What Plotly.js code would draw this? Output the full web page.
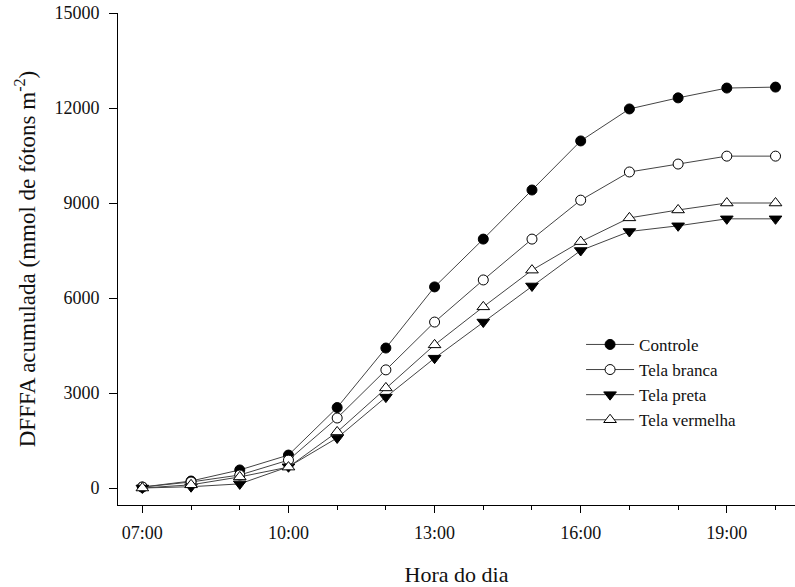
<!DOCTYPE html>
<html>
<head>
<meta charset="utf-8">
<script src="https://cdn.plot.ly/plotly-3.0.1.min.js"></script>
<style>html,body{margin:0;padding:0;background:#fff;}#chart{width:795px;height:587px;}</style>
</head>
<body>
<div id="chart"></div>
<script>
const hours = [7, 8, 9, 10, 11, 12, 13, 14, 15, 16, 17, 18, 19, 20];
const xTickVals = [7, 10, 13, 16, 19];
const xTickText = ["07:00", "10:00", "13:00", "16:00", "19:00"];
const yTickVals = [0, 3000, 6000, 9000, 12000, 15000];
const yTickText = ["0", "3000", "6000", "9000", "12000", "15000"];
const controle = [30, 220, 570, 1040, 2540, 4420, 6350, 7860, 9410, 10960, 11970, 12320, 12630, 12660];
const telaBranca = [30, 190, 410, 880, 2210, 3730, 5240, 6570, 7860, 9090, 9980, 10230, 10480, 10480];
const telaPreta = [0, 40, 130, 670, 1580, 2870, 4100, 5240, 6380, 7500, 8100, 8280, 8500, 8500];
const telaVermelha = [0, 100, 350, 660, 1770, 3160, 4520, 5720, 6880, 7780, 8530, 8780, 9000, 9000];

const font = "Liberation Serif, Times New Roman, serif";
const lineCol = "#444";
function tr(name, y, symbol, fill) {
  return {
    x: hours, y: y, name: name, type: "scatter", mode: "lines+markers",
    line: {color: lineCol, width: 1},
    marker: {symbol: symbol, size: symbol.indexOf("triangle") === 0 ? 11 : 10, color: fill, line: {color: "#000", width: 1}}
  };
}
const data = [
  tr("Controle", controle, "circle", "#000"),
  tr("Tela branca", telaBranca, "circle", "#fff"),
  tr("Tela preta", telaPreta, "triangle-down", "#000"),
  tr("Tela vermelha", telaVermelha, "triangle-up", "#fff")
];
const layout = {
  width: 795, height: 587,
  margin: {l: 118, r: 0, t: 13, b: 82},
  paper_bgcolor: "#fff", plot_bgcolor: "#fff",
  font: {family: font, size: 18, color: "#111"},
  showlegend: true,
  legend: {x: 0.684, y: 0.362, xanchor: "left", yanchor: "top", font: {family: font, size: 17, color: "#111"}, bgcolor: "rgba(0,0,0,0)", tracegroupgap: 0, itemwidth: 48},
  xaxis: {
    range: [6.5, 20.4], tickmode: "array", tickvals: xTickVals, ticktext: xTickText,
    showgrid: false, zeroline: false, showline: true, linecolor: "#000", linewidth: 1,
    ticks: "outside", ticklen: 7, tickcolor: "#000", ticklabelstandoff: 4,
    minor: {tickmode: "linear", tick0: 7, dtick: 1, ticks: "outside", ticklen: 4, tickcolor: "#000", showgrid: false},
    tickfont: {family: font, size: 18, color: "#111"},
    title: {text: "Hora do dia", font: {family: font, size: 22, color: "#111"}, standoff: 26},
    automargin: false
  },
  yaxis: {
    range: [-537, 15000], tickmode: "array", tickvals: yTickVals, ticktext: yTickText,
    showgrid: false, zeroline: false, showline: true, linecolor: "#000", linewidth: 1,
    ticks: "outside", ticklen: 8, tickcolor: "#000", ticklabelstandoff: 6,
    tickfont: {family: font, size: 18, color: "#111"},
    title: {text: "DFFFA acumulada (mmol de fótons m<sup>-2</sup>)", font: {family: font, size: 23, color: "#111"}, standoff: 12},
    automargin: true
  }
};
Plotly.newPlot("chart", data, layout, {displayModeBar: false, staticPlot: true});
</script>
</body>
</html>
